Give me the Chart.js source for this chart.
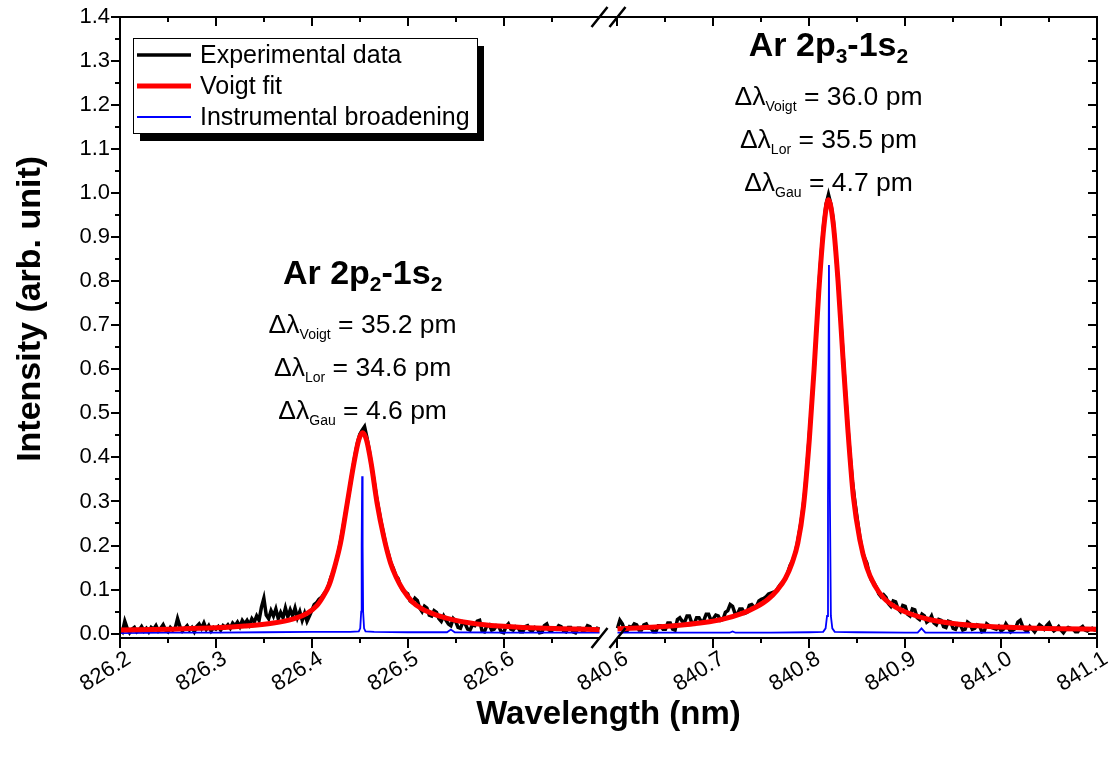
<!DOCTYPE html>
<html>
<head>
<meta charset="utf-8">
<title>Ar 2p-1s line profiles</title>
<script src="https://cdn.jsdelivr.net/npm/chart.js"></script>
<style>
  html, body { margin: 0; padding: 0; background: #fff; }
  #wrap { width: 1109px; height: 761px; }
</style>
</head>
<body>
<div id="wrap"><canvas id="profileChart"></canvas></div>
<script>
// --- measured spectrum, sampled every 2.5 pm on both windows ---
const expStep = 0.0025;
const expLeftStart = 826.2;
const expLeft = [
  0.010, 0.004, 0.028, 0.012, 0.002, 0.010, 0.014, 0.004, 0.008, 0.016,
  0.006, 0.012, 0.004, 0.014, 0.010, 0.018, 0.006, 0.012, 0.020, 0.008,
  0.004, 0.014, 0.008, 0.012, 0.034, 0.016, 0.006, 0.012, 0.018, 0.008,
  0.014, 0.004, 0.016, 0.022, 0.012, 0.024, 0.010, 0.018, 0.006, 0.014,
  0.010, 0.016, 0.008, 0.018, 0.014, 0.020, 0.012, 0.024, 0.018, 0.026,
  0.016, 0.030, 0.022, 0.030, 0.020, 0.034, 0.026, 0.040, 0.030, 0.060,
  0.080, 0.042, 0.034, 0.052, 0.040, 0.056, 0.034, 0.048, 0.036, 0.058,
  0.038, 0.054, 0.040, 0.058, 0.036, 0.050, 0.030, 0.046, 0.028, 0.040,
  0.052, 0.066, 0.070, 0.078, 0.082, 0.090, 0.097, 0.110, 0.128, 0.140,
  0.160, 0.182, 0.210, 0.240, 0.272, 0.302, 0.336, 0.372, 0.405, 0.432,
  0.452, 0.462, 0.470, 0.445, 0.415, 0.378, 0.345, 0.310, 0.280, 0.250,
  0.225, 0.198, 0.180, 0.160, 0.148, 0.132, 0.125, 0.108, 0.098, 0.094,
  0.090, 0.074, 0.070, 0.080, 0.075, 0.058, 0.050, 0.062, 0.058, 0.042,
  0.040, 0.052, 0.048, 0.034, 0.028, 0.040, 0.030, 0.022, 0.018, 0.034,
  0.028, 0.014, 0.012, 0.026, 0.022, 0.010, 0.008, 0.020, 0.018, 0.028,
  0.030, 0.006, 0.004, 0.018, 0.020, 0.008, 0.010, 0.018, 0.016, 0.004,
  0.002, 0.016, 0.022, 0.010, 0.008, 0.016, 0.014, 0.004, 0.004, 0.016,
  0.018, 0.008, 0.006, 0.014, 0.012, 0.002, 0.003, 0.018, 0.022, 0.008,
  0.006, 0.012, 0.010, 0.018, 0.016, 0.006, 0.004, 0.014, 0.014, 0.004,
  0.002, 0.012, 0.012, 0.006, 0.008, 0.018, 0.016, 0.006, 0.006, 0.012,
  0.010
];
const expRightStart = 840.6;
const expRight = [
  0.012, 0.030, 0.022, 0.008, 0.006, 0.016, 0.014, 0.022, 0.020, 0.008,
  0.008, 0.020, 0.022, 0.012, 0.012, 0.004, 0.004, 0.018, 0.018, 0.010,
  0.010, 0.024, 0.024, 0.010, 0.008, 0.032, 0.036, 0.028, 0.026, 0.040,
  0.040, 0.024, 0.022, 0.036, 0.036, 0.026, 0.030, 0.044, 0.044, 0.030,
  0.034, 0.042, 0.040, 0.030, 0.032, 0.048, 0.052, 0.066, 0.062, 0.046,
  0.044, 0.056, 0.056, 0.046, 0.048, 0.064, 0.066, 0.060, 0.062, 0.074,
  0.078, 0.080, 0.084, 0.090, 0.092, 0.094, 0.095, 0.104, 0.112, 0.118,
  0.124, 0.138, 0.155, 0.165, 0.180, 0.205, 0.235, 0.270, 0.315, 0.375,
  0.450, 0.520, 0.600, 0.690, 0.790, 0.865, 0.930, 0.975, 0.997, 0.975,
  0.940, 0.870, 0.800, 0.720, 0.640, 0.555, 0.475, 0.405, 0.345, 0.300,
  0.260, 0.222, 0.190, 0.172, 0.160, 0.135, 0.120, 0.115, 0.105, 0.090,
  0.083, 0.088, 0.082, 0.068, 0.062, 0.074, 0.072, 0.056, 0.050, 0.064,
  0.062, 0.044, 0.040, 0.056, 0.054, 0.036, 0.032, 0.044, 0.040, 0.026,
  0.030, 0.040, 0.024, 0.020, 0.032, 0.030, 0.016, 0.014, 0.028, 0.026,
  0.012, 0.010, 0.022, 0.020, 0.008, 0.010, 0.026, 0.022, 0.010, 0.012,
  0.020, 0.018, 0.004, 0.006, 0.022, 0.018, 0.014, 0.012, 0.010, 0.016,
  0.006, 0.010, 0.022, 0.014, 0.004, 0.008, 0.012, 0.026, 0.030, 0.016,
  0.008, 0.006, 0.016, 0.010, 0.004, 0.012, 0.020, 0.016, 0.010, 0.018,
  0.024, 0.012, 0.006, 0.010, 0.016, 0.008, 0.002, 0.010, 0.014, 0.012,
  0.010, 0.004, 0.004, 0.012, 0.016, 0.008, 0.006, 0.010, 0.012, 0.008,
  0.008
];

// --- Voigt fit ---
const fitLeftX = [826.20, 826.25, 826.30, 826.33, 826.36, 826.38, 826.395, 826.405, 826.412, 826.418,
  826.423, 826.43, 826.437, 826.444, 826.449, 826.453, 826.457, 826.462, 826.468, 826.475,
  826.482, 826.488, 826.495, 826.505, 826.515, 826.53, 826.55, 826.58, 826.62, 826.66, 826.70];
const fitLeftY = [0.008, 0.010, 0.013, 0.017, 0.024, 0.033, 0.046, 0.063, 0.085, 0.110,
  0.145, 0.206, 0.297, 0.388, 0.440, 0.456, 0.440, 0.385, 0.297, 0.220,
  0.161, 0.128, 0.100, 0.072, 0.056, 0.042, 0.030, 0.020, 0.014, 0.011, 0.009];
const fitRightX = [840.60, 840.64, 840.67, 840.69, 840.71, 840.73, 840.745, 840.757, 840.767, 840.775,
  840.782, 840.788, 840.794, 840.80, 840.805, 840.81, 840.815, 840.82, 840.825, 840.83,
  840.835, 840.84, 840.846, 840.853, 840.86, 840.868, 840.878, 840.89, 840.905, 840.925,
  840.95, 840.98, 841.02, 841.06, 841.10];
const fitRightY = [0.011, 0.015, 0.020, 0.025, 0.033, 0.046, 0.061, 0.078, 0.100, 0.125,
  0.160, 0.205, 0.290, 0.440, 0.600, 0.780, 0.920, 0.985, 0.930, 0.800,
  0.630, 0.470, 0.310, 0.210, 0.150, 0.110, 0.080, 0.060, 0.045, 0.032,
  0.023, 0.017, 0.013, 0.011, 0.010];

// --- instrumental broadening ---
const instLeftX = [826.2, 826.25, 826.3, 826.35, 826.4, 826.44, 826.449, 826.4505, 826.4515, 826.452,
  826.4525, 826.453, 826.4535, 826.4545, 826.456, 826.465, 826.5, 826.541, 826.545, 826.549,
  826.6, 826.65, 826.7];
const instLeftY = [0.001, 0.002, 0.002, 0.003, 0.004, 0.004, 0.005, 0.012, 0.05, 0.2,
  0.357, 0.2, 0.05, 0.012, 0.005, 0.004, 0.003, 0.003, 0.009, 0.003,
  0.002, 0.002, 0.002];
const instRightX = [840.6, 840.65, 840.7, 840.717, 840.72, 840.723, 840.76, 840.8, 840.8145, 840.817,
  840.8185, 840.8195, 840.8205, 840.8215, 840.8225, 840.824, 840.8265, 840.85, 840.9, 840.913,
  840.917, 840.921, 840.96, 841.0, 841.03];
const instRightY = [0.002, 0.002, 0.002, 0.002, 0.005, 0.002, 0.002, 0.003, 0.004, 0.012,
  0.04, 0.3, 0.837, 0.3, 0.04, 0.012, 0.004, 0.003, 0.002, 0.002,
  0.012, 0.002, 0.002, 0.002, 0.002];

// --- axes ---
const xTickValues = [826.2, 826.3, 826.4, 826.5, 826.6, 840.6, 840.7, 840.8, 840.9, 841.0, 841.1];
const xTickLabels = ['826.2', '826.3', '826.4', '826.5', '826.6', '840.6', '840.7', '840.8', '840.9', '841.0', '841.1'];
const yTickValues = [0, 0.1, 0.2, 0.3, 0.4, 0.5, 0.6, 0.7, 0.8, 0.9, 1.0, 1.1, 1.2, 1.3, 1.4];
const yTitle = 'Intensity (arb. unit)';

// --- peak annotations ---
const peakCenters = [826.453, 840.82];
const peakTitleY = [0.814, 1.332];
const peakUpper = ['2', '3'];
const widthKinds = ['Voigt', 'Lor', 'Gau'];
const peakWidths = [['35.2', '34.6', '4.6'], ['36.0', '35.5', '4.7']];

// broken x axis: both windows share one linear scale with a small gap between them
const LEFT_MIN = 826.2, LEFT_MAX = 826.7, RIGHT_MIN = 840.6, RIGHT_MAX = 841.1;
const GAP = 0.01875;
function axisPos(w) {
  return w < 833 ? w - LEFT_MIN : (w - RIGHT_MIN) + (LEFT_MAX - LEFT_MIN) + GAP;
}
const X_MAX = axisPos(RIGHT_MAX);

function joinWindows(leftX, leftY, rightX, rightY) {
  const pts = leftX.map((w, i) => ({ x: axisPos(w), y: leftY[i] }));
  pts.push({ x: axisPos(LEFT_MAX) + GAP / 2, y: null });
  rightX.forEach((w, i) => pts.push({ x: axisPos(w), y: rightY[i] }));
  return pts;
}
const expLeftX = expLeft.map((_, i) => expLeftStart + i * expStep);
const expRightX = expRight.map((_, i) => expRightStart + i * expStep);

const FONT = '"Liberation Sans", Arial, sans-serif';

// frame, ticks, the // break marks and the y title
const framePlugin = {
  id: 'frame',
  afterDatasetsDraw(chart) {
    const { ctx, chartArea: a, scales: { x, y } } = chart;
    const xl = x.getPixelForValue(axisPos(LEFT_MAX));
    const xr = x.getPixelForValue(axisPos(RIGHT_MIN));
    ctx.save();
    ctx.strokeStyle = '#000';
    ctx.lineWidth = 2;
    ctx.beginPath();
    ctx.moveTo(a.left - 1, a.top); ctx.lineTo(a.right + 1, a.top);
    ctx.moveTo(a.left, a.top); ctx.lineTo(a.left, a.bottom + 1);
    ctx.moveTo(a.right, a.top); ctx.lineTo(a.right, a.bottom + 1);
    ctx.moveTo(a.left - 1, a.bottom); ctx.lineTo(xl, a.bottom);
    ctx.moveTo(xr, a.bottom); ctx.lineTo(a.right + 1, a.bottom);

    // y ticks: outward on the left, inward on the right
    yTickValues.forEach((v, i) => {
      const py = Math.round(y.getPixelForValue(v));
      ctx.moveTo(a.left - 9, py); ctx.lineTo(a.left, py);
      ctx.moveTo(a.right - 9, py); ctx.lineTo(a.right, py);
      if (i < yTickValues.length - 1) {
        const pm = Math.round(y.getPixelForValue((v + yTickValues[i + 1]) / 2));
        ctx.moveTo(a.left - 5, pm); ctx.lineTo(a.left, pm);
        ctx.moveTo(a.right - 5, pm); ctx.lineTo(a.right, pm);
      }
    });
    // x ticks: outward at the bottom, inward at the top
    xTickValues.forEach((w, i) => {
      const px = Math.round(x.getPixelForValue(axisPos(w)));
      ctx.moveTo(px, a.bottom); ctx.lineTo(px, a.bottom + 10);
      ctx.moveTo(px, a.top); ctx.lineTo(px, a.top + 9);
      const next = xTickValues[i + 1];
      if (next !== undefined && next - w < 1) {
        const pm = Math.round(x.getPixelForValue(axisPos((w + next) / 2)));
        ctx.moveTo(pm, a.bottom); ctx.lineTo(pm, a.bottom + 5);
        ctx.moveTo(pm, a.top); ctx.lineTo(pm, a.top + 5);
      }
    });
    const lastLeft = Math.round(x.getPixelForValue(axisPos(826.65)));
    ctx.moveTo(lastLeft, a.bottom); ctx.lineTo(lastLeft, a.bottom + 5);
    ctx.moveTo(lastLeft, a.top); ctx.lineTo(lastLeft, a.top + 5);
    ctx.stroke();

    ctx.lineWidth = 2.5;
    ctx.beginPath();
    [xl, xr].forEach(px => {
      [a.top, a.bottom].forEach(py => {
        ctx.moveTo(px - 8, py + 10);
        ctx.lineTo(px + 8, py - 10);
      });
    });
    ctx.stroke();

    // y title sits a little above the middle of the frame, as in the original
    ctx.translate(31, a.top + (a.bottom - a.top) * 0.47);
    ctx.rotate(-Math.PI / 2);
    ctx.font = 'bold 34px ' + FONT;
    ctx.textAlign = 'center';
    ctx.textBaseline = 'middle';
    ctx.fillStyle = '#000';
    ctx.fillText(yTitle, 0, 0);
    ctx.restore();
  }
};

// legend with Origin-style drop shadow
const legendPlugin = {
  id: 'shadowLegend',
  afterDraw(chart) {
    const { ctx, chartArea: a } = chart;
    const bx = a.left + 13, by = a.top + 21, bw = 344, bh = 95;
    ctx.save();
    ctx.fillStyle = '#000';
    ctx.fillRect(bx + 7, by + 8, bw, bh);
    ctx.fillStyle = '#fff';
    ctx.fillRect(bx, by, bw, bh);
    ctx.strokeStyle = '#000';
    ctx.lineWidth = 1;
    ctx.strokeRect(bx + 0.5, by + 0.5, bw, bh);
    ctx.font = '25px ' + FONT;
    ctx.textBaseline = 'middle';
    ctx.fillStyle = '#000';
    chart.data.datasets.forEach((ds, i) => {
      const cy = by + 17 + i * 31;
      ctx.strokeStyle = ds.borderColor;
      ctx.lineWidth = ds.borderWidth;
      ctx.beginPath();
      ctx.moveTo(bx + 4, cy);
      ctx.lineTo(bx + 58, cy);
      ctx.stroke();
      ctx.fillText(ds.label, bx + 67, cy + 1);
    });
    ctx.restore();
  }
};

// text with subscripts, centred on cx
function drawRich(ctx, parts, cx, cy, mainFont, subFont, subDrop) {
  let total = 0;
  parts.forEach(p => { ctx.font = p.sub ? subFont : mainFont; total += ctx.measureText(p.t).width; });
  let x = cx - total / 2;
  ctx.textAlign = 'left';
  ctx.textBaseline = 'middle';
  parts.forEach(p => {
    ctx.font = p.sub ? subFont : mainFont;
    ctx.fillText(p.t, x, p.sub ? cy + subDrop : cy);
    x += ctx.measureText(p.t).width;
  });
}

const notesPlugin = {
  id: 'peakNotes',
  afterDraw(chart) {
    const { ctx, scales: { x, y } } = chart;
    ctx.save();
    ctx.fillStyle = '#000';
    peakCenters.forEach((w, k) => {
      const cx = x.getPixelForValue(axisPos(w));
      const cy = y.getPixelForValue(peakTitleY[k]);
      drawRich(ctx, [
        { t: 'Ar 2p' }, { t: peakUpper[k], sub: true }, { t: '-1s' }, { t: '2', sub: true }
      ], cx, cy, 'bold 34px ' + FONT, 'bold 21px ' + FONT, 10);
      widthKinds.forEach((kind, j) => {
        drawRich(ctx, [
          { t: '\u0394\u03bb' }, { t: kind, sub: true }, { t: ' = ' + peakWidths[k][j] + ' pm' }
        ], cx, cy + 51 + j * 43, '26.5px ' + FONT, '14px ' + FONT, 9);
      });
    });
    ctx.restore();
  }
};

const ctx = document.getElementById('profileChart').getContext('2d');
new Chart(ctx, {
  type: 'line',
  data: {
    datasets: [
      {
        label: 'Experimental data',
        data: joinWindows(expLeftX, expLeft, expRightX, expRight),
        borderColor: '#000000',
        borderWidth: 3.5,
        pointRadius: 0,
        tension: 0,
        order: 3
      },
      {
        label: 'Voigt fit',
        data: joinWindows(fitLeftX, fitLeftY, fitRightX, fitRightY),
        borderColor: '#ff0000',
        borderWidth: 5,
        pointRadius: 0,
        cubicInterpolationMode: 'monotone',
        order: 1
      },
      {
        label: 'Instrumental broadening',
        data: joinWindows(instLeftX, instLeftY, instRightX, instRightY),
        borderColor: '#0000ff',
        borderWidth: 1.8,
        pointRadius: 0,
        tension: 0,
        order: 2
      }
    ]
  },
  options: {
    responsive: true,
    maintainAspectRatio: false,
    animation: false,
    spanGaps: false,
    layout: { padding: { left: 14, right: 12, top: 17, bottom: 26 } },
    plugins: { legend: { display: false }, tooltip: { enabled: false } },
    scales: {
      x: {
        type: 'linear',
        min: 0,
        max: X_MAX,
        grid: { display: false, drawTicks: false },
        border: { display: false },
        afterBuildTicks: s => { s.ticks = xTickValues.map(w => ({ value: axisPos(w) })); },
        afterFit: s => { s.height = 97; s.paddingLeft = 0; s.paddingRight = 0; },
        ticks: {
          autoSkip: false,
          minRotation: 32,
          maxRotation: 32,
          padding: 8,
          labelOffset: 9,
          color: '#000',
          font: { family: FONT, size: 22 },
          callback: (v, i) => xTickLabels[i]
        },
        title: {
          display: true,
          text: 'Wavelength (nm)',
          color: '#000',
          padding: 0,
          font: { family: FONT, size: 33, weight: 'bold' }
        }
      },
      y: {
        min: -0.01,
        max: 1.4,
        grid: { display: false, drawTicks: false },
        border: { display: false },
        afterBuildTicks: s => { s.ticks = yTickValues.map(v => ({ value: v })); },
        afterFit: s => { s.width = 106; s.paddingTop = 0; s.paddingBottom = 0; },
        ticks: {
          padding: 10,
          color: '#000',
          font: { family: FONT, size: 22 },
          callback: v => v.toFixed(1)
        }
      }
    }
  },
  plugins: [framePlugin, legendPlugin, notesPlugin]
});
</script>
</body>
</html>
